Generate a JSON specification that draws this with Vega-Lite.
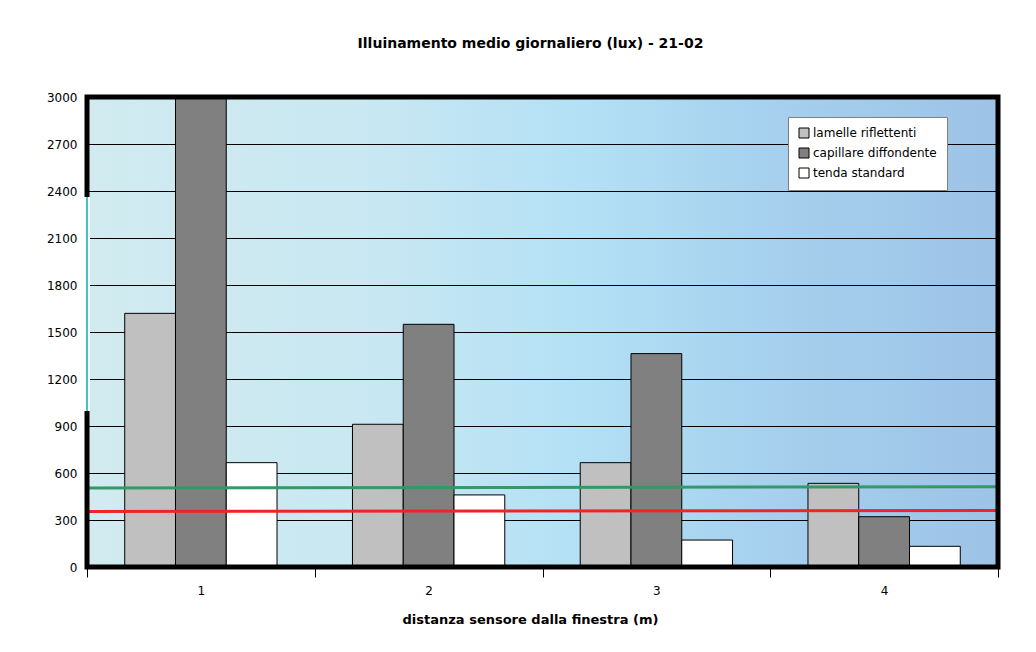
{
  "$schema": "https://vega.github.io/schema/vega-lite/v6.json",
  "autosize": "none",
  "width": 911,
  "height": 470,
  "padding": {"left": 87, "top": 97, "right": 38, "bottom": 85},
  "background": "white",
  "title": {
    "text": "Illuinamento medio giornaliero (lux) - 21-02",
    "font": "DejaVu Sans",
    "fontSize": 14,
    "fontWeight": "bold",
    "color": "black",
    "anchor": "middle",
    "offset": 40,
    "dx": -12
  },
  "config": {
    "font": "DejaVu Sans",
    "view": {
      "stroke": null,
      "fill": {
        "gradient": "linear",
        "x1": 0, "y1": 0, "x2": 1, "y2": 0,
        "stops": [
          {"offset": 0, "color": "#d1ebf0"},
          {"offset": 0.3, "color": "#c9e8f2"},
          {"offset": 0.55, "color": "#b3e0f5"},
          {"offset": 0.75, "color": "#a6d0ee"},
          {"offset": 1, "color": "#9dc3e6"}
        ]
      }
    }
  },
  "datasets": {
    "bars": [
      {"dist": "1", "serie": "lamelle riflettenti", "lux": 1619},
      {"dist": "1", "serie": "capillare diffondente", "lux": 3000},
      {"dist": "1", "serie": "tenda standard", "lux": 666},
      {"dist": "2", "serie": "lamelle riflettenti", "lux": 911},
      {"dist": "2", "serie": "capillare diffondente", "lux": 1549},
      {"dist": "2", "serie": "tenda standard", "lux": 460},
      {"dist": "3", "serie": "lamelle riflettenti", "lux": 666},
      {"dist": "3", "serie": "capillare diffondente", "lux": 1362},
      {"dist": "3", "serie": "tenda standard", "lux": 172},
      {"dist": "4", "serie": "lamelle riflettenti", "lux": 534},
      {"dist": "4", "serie": "capillare diffondente", "lux": 321},
      {"dist": "4", "serie": "tenda standard", "lux": 132}
    ],
    "green": [
      {"pos": 0, "lux": 504},
      {"pos": 1, "lux": 512}
    ],
    "red": [
      {"pos": 0, "lux": 355},
      {"pos": 1, "lux": 361}
    ],
    "frame": [
      {"left": 0, "right": 1, "bottom": 0, "top": 3000}
    ],
    "gap": [
      {"pos": 0, "from": 995, "to": 2362}
    ]
  },
  "layer": [
    {
      "data": {"name": "bars"},
      "mark": {"type": "bar", "stroke": "black", "strokeWidth": 1, "clip": true},
      "encoding": {
        "x": {
          "field": "dist",
          "type": "nominal",
          "scale": {"paddingInner": 0, "paddingOuter": 0},
          "axis": {
            "title": "distanza sensore dalla finestra (m)",
            "titleFont": "DejaVu Sans",
            "titleFontSize": 13,
            "titleFontWeight": "bold",
            "titleColor": "black",
            "titlePadding": 17,
            "titleX": 443,
            "labelAngle": 0,
            "labelFontSize": 12,
            "labelColor": "black",
            "labelPadding": 8,
            "tickBand": "extent",
            "tickSize": 10,
            "tickColor": "black",
            "tickWidth": 1,
            "domain": false,
            "grid": false
          }
        },
        "xOffset": {
          "field": "serie",
          "type": "nominal",
          "sort": ["lamelle riflettenti", "capillare diffondente", "tenda standard"],
          "scale": {"paddingInner": 0, "paddingOuter": 0.743}
        },
        "y": {
          "field": "lux",
          "type": "quantitative",
          "scale": {"domain": [0, 3000], "nice": false},
          "axis": {
            "title": null,
            "format": "d",
            "values": [0, 300, 600, 900, 1200, 1500, 1800, 2100, 2400, 2700, 3000],
            "labelFontSize": 12,
            "labelColor": "black",
            "labelPadding": 10,
            "ticks": false,
            "tickSize": 0,
            "domain": false,
            "grid": true,
            "gridColor": "black",
            "gridWidth": 1,
            "gridOpacity": 1
          }
        },
        "color": {
          "field": "serie",
          "type": "nominal",
          "scale": {
            "domain": ["lamelle riflettenti", "capillare diffondente", "tenda standard"],
            "range": ["#c0c0c0", "#808080", "#ffffff"]
          },
          "legend": {
            "title": null,
            "orient": "none",
            "legendX": 701,
            "legendY": 20,
            "fillColor": "white",
            "strokeColor": "#808080",
            "padding": 10,
            "rowPadding": 6,
            "symbolType": "square",
            "symbolSize": 100,
            "symbolStrokeColor": "black",
            "symbolStrokeWidth": 1,
            "symbolOffset": 0,
            "labelFontSize": 12,
            "labelColor": "black",
            "labelOffset": 3
          }
        }
      }
    },
    {
      "data": {"name": "green"},
      "mark": {"type": "line", "color": "#339966", "strokeWidth": 3},
      "encoding": {
        "x": {"field": "pos", "type": "quantitative", "scale": {"domain": [0, 1]}, "axis": null},
        "y": {"field": "lux", "type": "quantitative"}
      }
    },
    {
      "data": {"name": "red"},
      "mark": {"type": "line", "color": "#f02424", "strokeWidth": 3},
      "encoding": {
        "x": {"field": "pos", "type": "quantitative", "scale": {"domain": [0, 1]}, "axis": null},
        "y": {"field": "lux", "type": "quantitative"}
      }
    },
    {
      "data": {"name": "frame"},
      "mark": {"type": "rect", "fill": null, "fillOpacity": 0, "stroke": "black", "strokeWidth": 5},
      "encoding": {
        "x": {"field": "left", "type": "quantitative", "scale": {"domain": [0, 1]}, "axis": null},
        "x2": {"field": "right"},
        "y": {"field": "bottom", "type": "quantitative"},
        "y2": {"field": "top"}
      }
    },
    {
      "data": {"name": "gap"},
      "mark": {"type": "rule", "color": "white", "strokeWidth": 6},
      "encoding": {
        "x": {"field": "pos", "type": "quantitative", "scale": {"domain": [0, 1]}, "axis": null},
        "y": {"field": "from", "type": "quantitative"},
        "y2": {"field": "to"}
      }
    },
    {
      "data": {"name": "gap"},
      "mark": {"type": "rule", "color": "#40c4c8", "strokeWidth": 2},
      "encoding": {
        "x": {"field": "pos", "type": "quantitative", "scale": {"domain": [0, 1]}, "axis": null},
        "y": {"field": "from", "type": "quantitative"},
        "y2": {"field": "to"}
      }
    }
  ],
  "resolve": {"scale": {"x": "independent"}}
}
